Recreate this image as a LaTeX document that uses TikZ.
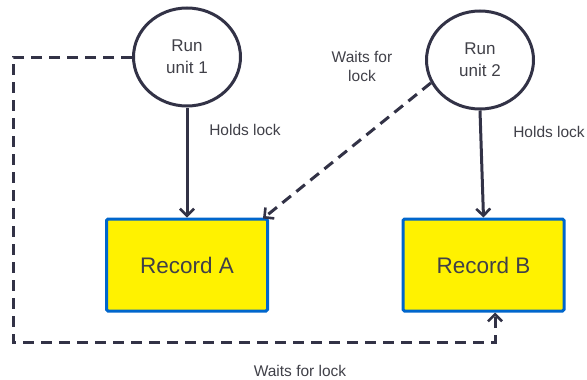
\documentclass[tikz,border=0pt]{standalone}
\usepackage{fontspec}
\setmainfont{Liberation Sans}
\usetikzlibrary{shapes.geometric,arrows.meta}
\definecolor{ink}{RGB}{50,50,70}
\definecolor{txt}{RGB}{64,64,72}
\definecolor{recborder}{RGB}{0,102,204}
\tikzset{
  unit/.style={ellipse,draw=ink,line width=3pt,fill=white,minimum width=107pt,minimum height=98pt,
    inner sep=0pt,align=center,text=txt,font=\fontsize{17}{22}\selectfont},
  record/.style={rectangle,rounded corners=1.5pt,draw=recborder,line width=3pt,fill=yellow,
    minimum width=161pt,minimum height=92pt,text=txt,font=\fontsize{22.5}{26}\selectfont},
  lbl/.style={text=txt,align=center,inner sep=0pt,font=\fontsize{15.5}{19}\selectfont},
  tip/.style={-{Straight Barb[length=7pt,width=14pt,line width=2.6pt]}},
  holds/.style={ink,line width=3pt,tip},
  waits/.style={ink,line width=3pt,dash pattern=on 11pt off 7pt,tip},
}
\begin{document}
\begin{tikzpicture}[x=1pt,y=-1pt]
\useasboundingbox (0,0) rectangle (587,380);

\node[unit] (u1) at (187,57) {Run\\unit 1};
\node[unit] (u2) at (480,60) {Run\\unit 2};
\node[record] (ra) at (187,265) {Record A};
\node[record] (rb) at (483.5,265) {Record B};

\node[lbl] (h1) at (245,130) {Holds lock};
\node[lbl] (h2) at (549,132) {Holds lock};
\node[lbl] (w2) at (362,66) {Waits for\\lock};
\node[lbl] (w1) at (300,371) {Waits for lock};

% locks held
\draw[holds] (u1.south) -- (ra.north);
\draw[holds] (u2.south) -- (rb.north);

% locks waited for
\coordinate (corner) at (13,342);
\draw[waits] (u1.west) -| (corner) -| ([xshift=11.5pt]rb.south);
\draw[waits] (u2.205) -- ([xshift=-6pt,yshift=-1pt]ra.north east);
\end{tikzpicture}
\end{document}
